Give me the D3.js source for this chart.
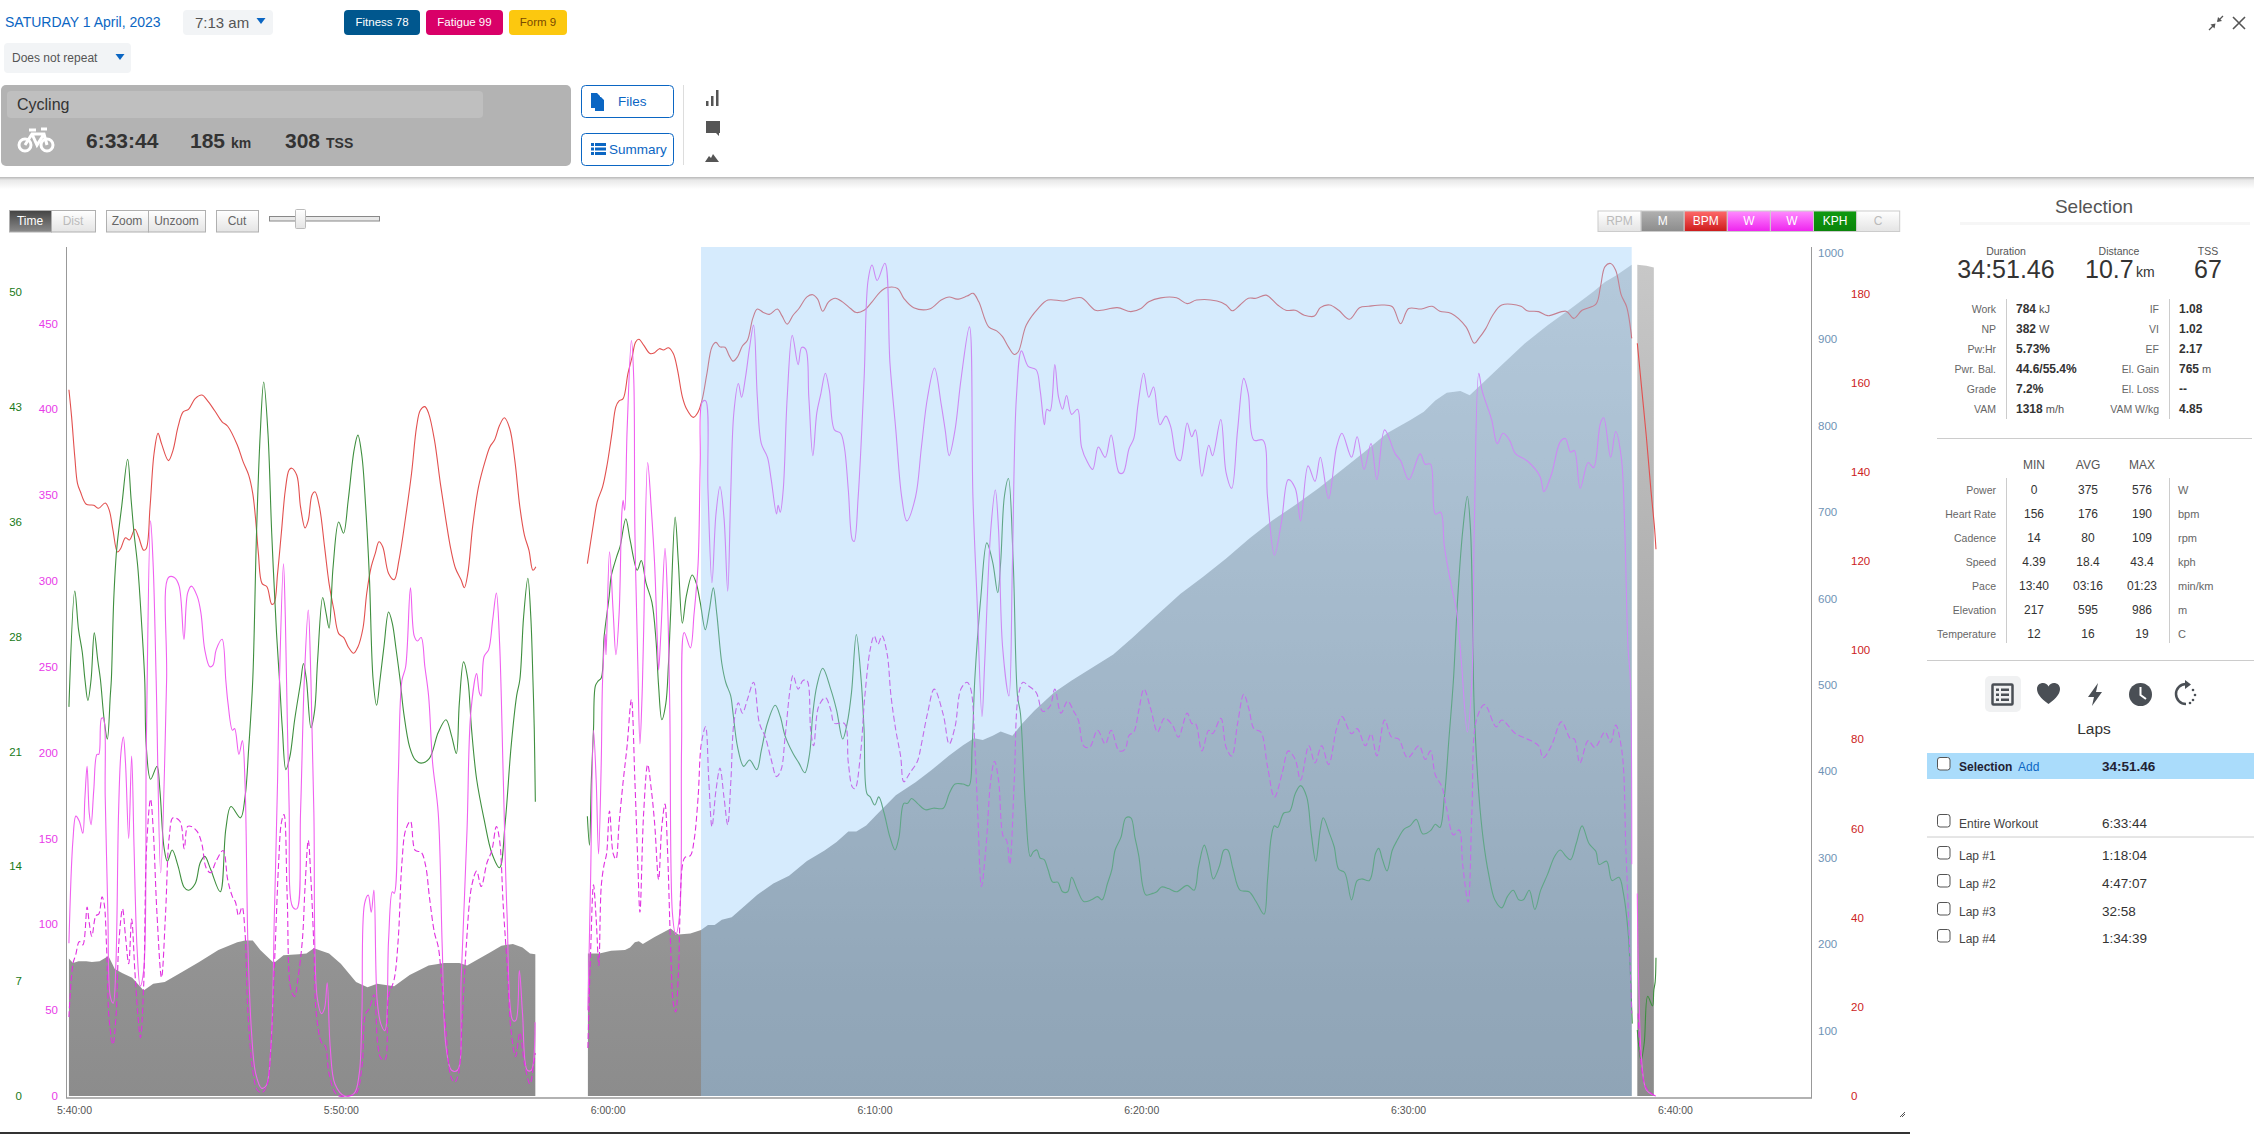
<!DOCTYPE html>
<html>
<head>
<meta charset="utf-8">
<title>Workout</title>
<script src="https://cdn.jsdelivr.net/npm/d3@7"></script>
<style>
  html, body { margin: 0; padding: 0; background: #fff; overflow: hidden; }
  text { font-family: "Liberation Sans", Arial, sans-serif; }
</style>
</head>
<body>
<div id="chart"></div>
<script>
//data - time is minutes after 5:40:00, null breaks a line where recording stopped
var hrTime = [-0.19,-0.09,0.03,0.13,0.24,0.46,0.74,0.92,1.17,1.32,
  1.46,1.63,1.75,1.93,2.08,2.28,2.42,2.61,2.71,2.85,
  3.00,3.15,3.28,3.54,3.71,3.90,4.09,4.29,4.54,4.80,
  4.98,5.26,5.55,5.76,6.12,6.34,6.55,6.70,6.81,6.91,
  7.05,7.23,7.41,7.50,7.63,7.77,7.92,8.06,8.16,8.35,
  8.49,8.66,8.78,8.92,9.03,9.20,9.39,9.56,9.74,9.92,
  10.11,10.28,10.48,10.64,10.83,10.97,11.14,11.29,11.43,11.57,
  11.79,12.00,12.18,12.43,12.65,12.84,12.98,13.15,13.29,13.51,
  13.73,13.94,14.13,14.30,14.51,14.63,14.76,14.94,15.16,15.42,
  15.59,15.76,15.95,16.13,16.33,16.52,16.71,16.88,17.05,17.20,
  17.31,18,
  19.24,19.47,19.61,19.81,19.99,20.16,20.31,20.43,20.58,20.76,
  20.92,21.05,21.17,21.35,21.59,21.76,21.94,22.09,22.28,22.46,
  22.62,22.80,22.95,23.21,23.39,23.54,23.72,23.91,24.06,24.21,
  24.40,24.55,24.70,24.87,25.05,25.24,25.44,25.61,25.84,26.06,
  26.36,26.53,26.73,26.95,27.17,27.47,27.69,27.87,28.06,28.28,
  28.53,28.80,29.10,29.32,29.61,29.91,30.21,30.47,30.87,31.10,
  31.47,32.06,32.50,32.80,33.10,33.47,33.70,33.91,34.28,34.58,
  34.80,35.02,35.24,35.39,35.69,36.13,36.50,37.10,37.47,37.76,
  38.28,38.50,39.10,39.61,39.99,40.28,40.73,41.32,41.72,42.07,
  42.84,43.18,43.41,43.70,44.01,44.30,44.68,45.11,45.42,45.77,
  46.11,46.49,46.71,47.06,47.40,47.80,48.18,48.52,49.04,49.41,
  49.72,50.02,50.50,50.90,51.19,51.62,52.17,52.48,52.65,52.91,
  53.17,53.51,54.23,54.46,54.89,55.23,55.92,56.21,56.52,57.04,
  57.21,57.38,57.59,57.78,57.99,58.19,58.38,58.5,58.59,58.76,
  58.93,59.10,59.21,59.24,59.29];
var hrValues = [158.4,152.3,143.3,137.4,135.5,132.7,132.5,131.8,133,131.4,
  126.9,122,122.8,125.2,124.7,127.1,125.4,122.4,122.8,132.1,
  144.1,148.6,146.3,142.5,144.8,150.1,153.4,154,156.4,157.2,
  156.1,153.8,151.2,150.2,146,142.2,139.2,135.1,129.1,121.7,
  114.9,114.2,110.3,110.5,117.2,126.2,135.9,140.4,140.8,139.2,
  132.1,127.4,129.1,134.8,135.5,132.1,123.2,114.9,109,103.7,
  102.8,100.7,99.3,100.7,104.9,112.7,118.7,121.7,124.3,123.2,
  117.2,115.8,120.2,129.9,139.6,150.1,153.8,154.6,153.1,147.1,
  137.4,129.1,122.4,118.3,115.7,114,117.2,127.7,136.6,142.6,
  145.6,147.1,150.4,152.1,149.7,142.6,132.1,125.8,122.4,117.9,
  118.7,null,
  119.4,128.4,133.3,136.6,141.9,148.6,154.6,155.9,156.4,162,
  165.8,169.1,169.7,168.4,166.5,166.7,167.6,167.3,167.8,166.5,
  162.8,156.8,154.2,152.2,153.4,156.1,162,168,169,168,
  167.9,166.1,164.8,165.8,168.2,169.5,174.4,176.5,175.7,175.3,
  176.5,175,173.1,175.1,176.6,179.2,179.7,178.7,176,178.1,
  178.9,178.1,176.6,175.7,176.2,178.1,180.3,181.3,181.1,178.9,
  176.8,176.5,178.5,179.2,178.7,179.4,180,178.1,172.5,171.6,
  170.3,168,166.3,166.9,172.9,176.6,178.5,178.3,178.9,179,
  176.2,176.2,176.8,175.9,176.6,178.1,179,179,177.7,178.5,
  178.3,177.4,176.1,177.4,178.9,178.9,179.6,177.4,176.2,176.2,
  175.1,174.9,176.8,177.4,176.2,174.2,176.8,177.1,177.4,177,
  173.2,176.6,176.5,177.1,176,175.5,172.5,168.8,169.9,172.1,
  175.1,177.4,177.1,176.1,175.9,175,176,174.4,176.2,177.6,
  181.5,186,186.7,185.2,179.6,177,169.9,null,168.8,158.3,
  147.8,135.9,129.1,127.1,122.6];

var powerTime = [-0.19,-0.04,0.07,0.20,0.33,0.41,0.49,0.57,0.64,0.74,
  0.86,0.93,1.03,1.10,1.17,1.27,1.36,1.47,1.57,1.67,
  1.76,1.85,1.93,2.05,2.16,2.25,2.36,2.48,2.61,2.71,
  2.87,2.97,3.08,3.25,3.47,3.54,3.76,3.94,4.12,4.26,
  4.40,4.62,4.76,4.90,5.09,5.21,5.33,5.55,5.69,5.77,
  5.94,6.02,6.18,6.31,6.41,6.52,6.65,6.81,7.03,7.20,
  7.38,7.51,7.63,7.70,7.85,7.92,8.06,8.20,8.35,8.49,
  8.63,8.78,8.88,8.99,9.11,9.28,9.39,9.49,9.60,9.78,
  10.14,10.50,10.69,10.79,10.89,11.03,11.14,11.24,11.36,11.50,
  11.65,11.79,11.93,12.00,12.15,12.29,12.43,12.61,12.75,12.87,
  13.01,13.15,13.29,13.44,13.65,13.80,13.94,14.15,14.37,14.51,
  14.73,14.87,15.09,15.19,15.26,15.37,15.54,15.69,15.83,15.95,
  16.09,16.23,16.45,16.56,16.69,16.81,16.99,17.14,17.28,18,
  19.26,19.36,19.47,19.57,19.66,19.76,19.81,19.91,19.94,20.07,
  20.21,20.31,20.43,20.53,20.58,20.64,20.73,20.89,20.98,21.02,
  21.13,21.21,21.29,21.35,21.50,21.64,21.76,21.87,21.91,22.00,
  22.15,22.24,22.33,22.43,22.55,22.70,22.77,22.87,23.10,23.24,
  23.39,23.47,23.54,23.67,23.76,23.91,24.06,24.21,24.36,24.50,
  24.61,24.73,24.90,25.02,25.17,25.32,25.47,25.61,25.76,25.99,
  26.13,26.33,26.39,26.47,26.58,26.73,26.92,27.14,27.27,27.42,
  27.54,27.69,27.84,27.99,28.16,28.31,28.50,28.73,28.87,29.02,
  29.17,29.24,29.39,29.61,29.76,29.91,30.10,30.39,30.58,30.80,
  31.02,31.21,31.54,31.76,31.99,32.25,32.50,32.65,32.80,33.02,
  33.24,33.56,33.69,33.84,34.03,34.13,34.36,34.53,34.65,34.80,
  35.04,35.17,35.32,35.51,35.76,36.06,36.21,36.37,36.46,36.58,
  36.76,36.90,37.05,37.20,37.39,37.61,37.76,37.99,38.18,38.39,
  38.65,38.87,39.17,39.32,39.54,39.72,39.88,40.09,40.28,40.46,
  40.70,40.92,41.10,41.32,41.46,41.72,41.89,42.03,42.27,42.53,
  42.67,42.98,43.18,43.39,43.61,43.84,44.01,44.22,44.56,44.73,
  44.99,45.25,45.51,45.77,45.97,46.25,46.51,46.71,47.02,47.32,
  47.52,47.88,48.09,48.35,48.61,48.83,49.12,49.52,49.72,50.03,
  50.45,50.64,50.84,51.02,51.22,51.36,51.62,51.82,52.00,52.22,
  52.39,52.48,52.65,52.77,53.13,53.34,53.56,53.80,54.03,54.46,
  54.94,55.09,55.37,55.70,55.89,56.09,56.23,56.45,56.75,56.95,
  57.21,57.33,57.59,57.78,57.99,58.12,58.24,58.33,58.38,58.5,
  58.59,58.64,58.76,58.93,59.19,59.29];
var powerValues = [89,149,163,160,153,174,192,165,158,178,
  199,199,220,220,174,106,58,54,77,165,
  200,209,194,150,198,145,87,64,73,204,
  335,308,242,130,242,302,302,297,266,293,
  297,291,281,260,250,251,260,266,242,229,
  213,214,199,207,182,87,38,13,4.5,6,
  29,106,184,242,310,279,170,110,109,165,
  242,283,242,165,58,48,51,66,29,7,
  0,1.5,13,48,112,117,107,120,56,42,
  38,91,119,118,184,242,250,296,268,265,
  267,250,233,194,165,87,29,15,15,68,
  155,223,246,235,233,256,260,277,293,264,
  184,106,44,44,73,48,15,15,43,null,
  50,125,213,184,141,194,242,269,257,317,
  281,257,281,339,347,341,388,440,417,330,
  252,205,233,271,369,341,310,262,248,271,
  319,291,225,106,94,106,203,270,261,281,
  310,369,404,405,353,299,339,355,337,294,
  349,398,415,407,419,436,449,407,380,372,
  359,339,344,340,353,407,443,426,436,435,
  407,373,398,409,421,411,388,386,378,353,
  324,323,349,417,475,484,475,485,427,388,
  349,335,349,378,407,424,403,388,373,388,
  417,448,349,291,221,252,330,353,330,262,
  233,310,407,434,425,423,411,391,400,399,
  426,407,400,408,397,400,378,369,365,378,
  372,385,363,363,377,383,403,421,407,413,
  391,396,390,372,370,392,384,388,361,379,
  373,394,363,354,388,418,409,382,382,349,
  315,334,359,354,335,367,358,372,348,378,
  386,372,384,365,380,359,388,374,370,359,
  374,368,368,339,340,320,297,282,252,212,
  242,330,421,411,394,380,386,382,374,370,
  361,352,362,381,383,375,376,354,369,366,
  392,395,372,387,372,330,262,242,135,null,
  118,68,19,3.5,0.6,0];

var balanceTime = [-0.19,-0.04,0.06,0.20,0.33,0.49,0.57,0.67,0.82,0.93,
  1.05,1.13,1.22,1.32,1.46,1.58,1.68,1.82,1.93,2.05,
  2.16,2.28,2.39,2.49,2.61,2.72,2.87,2.97,3.11,3.28,
  3.43,3.57,3.71,3.97,4.13,4.26,4.40,4.62,4.79,4.95,
  5.12,5.33,5.59,5.76,5.94,6.05,6.17,6.30,6.41,6.52,
  6.70,6.87,7.05,7.23,7.38,7.53,7.67,7.77,7.87,7.99,
  8.13,8.27,8.39,8.56,8.66,8.78,8.88,8.99,9.08,9.28,
  9.42,9.56,9.85,10.21,10.57,10.79,10.93,11.07,11.24,11.39,
  11.50,11.65,11.79,12.00,12.15,12.29,12.43,12.61,12.79,13.01,
  13.18,13.32,13.51,13.65,13.80,13.94,14.13,14.27,14.41,14.56,
  14.70,14.90,15.09,15.26,15.48,15.66,15.83,15.95,16.09,16.23,
  16.38,16.55,16.71,16.88,17.09,17.23,17.29,18,
  19.26,19.36,19.47,19.57,19.67,19.76,19.87,19.96,20.07,20.21,
  20.31,20.43,20.58,20.73,20.89,21.02,21.13,21.21,21.35,21.50,
  21.64,21.76,21.91,22.03,22.15,22.24,22.36,22.46,22.55,22.65,
  22.80,22.90,23.10,23.24,23.39,23.51,23.67,23.79,23.91,24.06,
  24.21,24.36,24.50,24.62,24.73,24.90,25.05,25.24,25.47,25.69,
  25.91,26.13,26.33,26.50,26.65,26.84,26.95,27.14,27.32,27.47,
  27.61,27.72,27.91,28.16,28.36,28.50,28.87,29.02,29.17,29.27,
  29.47,29.64,29.84,29.99,30.13,30.28,30.47,30.62,30.80,30.98,
  31.10,31.32,31.61,31.76,31.99,32.24,32.58,32.80,33.02,33.24,
  33.47,33.61,33.76,33.87,34.01,34.18,34.36,34.50,34.65,34.83,
  34.95,35.07,35.24,35.39,35.57,35.76,36.06,36.31,36.58,36.76,
  36.99,37.24,37.47,37.64,37.84,38.06,38.36,38.65,38.87,39.17,
  39.39,39.54,39.72,39.91,40.10,40.36,40.61,40.87,41.17,41.39,
  41.72,41.89,42.03,42.27,42.53,42.67,42.98,43.18,43.39,43.61,
  43.84,44.04,44.22,44.48,44.73,44.99,45.28,45.51,45.77,45.97,
  46.28,46.51,46.76,47.02,47.32,47.52,47.88,48.09,48.40,48.61,
  48.83,49.12,49.38,49.64,49.98,50.41,50.64,50.84,51.02,51.27,
  51.45,51.70,51.91,52.05,52.25,52.39,52.56,52.87,53.30,53.51,
  54.03,54.46,54.89,55.06,55.37,55.75,56.09,56.23,56.44,56.75,
  57.00,57.38,57.59,57.78,58.02,58.16,58.30,58.38,58.5,58.62,
  58.76,58.93,59.24];
var balanceValues = [46,77,82,90,88,110,101,93,105,106,
  116,112,87,44,30,48,89,109,93,77,
  103,73,48,34,64,145,173,155,106,69,
  106,151,162,160,144,157,157,154,147,133,
  130,137,143,126,116,113,105,110,95,48,
  15,3.5,2,6,29,83,136,159,164,116,
  62,58,68,91,122,149,126,87,48,31,
  29,13,0.6,0,1.6,17,48,51,59,29,
  22,21,58,68,91,136,155,160,143,142,
  134,116,95,87,64,38,11,8,13,48,
  87,122,131,122,136,143,157,149,110,77,
  38,23,37,19,7,19,25,null,
  28,83,123,103,76,122,135,141,166,141,
  138,159,183,204,231,184,136,107,165,193,
  178,159,126,157,170,145,87,54,49,71,
  134,139,140,149,174,205,215,184,157,178,
  191,174,158,184,217,229,223,231,241,217,
  209,196,186,190,209,237,245,237,242,242,
  213,204,227,232,225,217,217,194,180,179,
  198,233,260,268,263,268,258,233,213,198,
  183,188,195,205,223,237,222,205,215,237,
  241,237,204,165,122,145,184,195,184,151,
  149,135,184,233,241,239,235,224,227,237,
  223,230,224,219,204,203,213,205,213,201,
  202,210,212,225,237,225,212,220,216,209,
  223,217,217,201,213,211,220,203,198,217,
  234,225,214,212,192,174,188,201,196,184,
  204,194,204,193,214,221,211,214,204,211,
  198,219,209,208,197,204,196,201,187,180,
  167,152,155,134,113,165,219,228,215,219,
  211,208,204,197,204,218,208,208,194,207,
  203,212,206,216,200,145,87,48,null,48,
  15,4.5,0.2];

var speedTime = [-0.19,0.03,0.17,0.31,0.41,0.52,0.64,0.76,0.89,0.99,
  1.13,1.25,1.36,1.40,1.49,1.60,1.79,2.01,2.14,2.25,
  2.39,2.54,2.65,2.71,2.87,3.11,3.22,3.37,3.50,3.68,
  3.90,4.12,4.29,4.54,4.73,4.90,5.12,5.48,5.69,5.88,
  6.24,6.41,6.55,6.70,6.84,6.98,7.11,7.27,7.41,7.59,
  7.70,7.81,7.94,8.09,8.27,8.49,8.60,8.71,8.88,9.02,
  9.13,9.32,9.45,9.56,9.71,9.92,10.10,10.28,10.50,10.64,
  10.79,10.93,11.07,11.21,11.34,11.47,11.62,11.79,11.93,12.07,
  12.22,12.36,12.58,12.79,13.01,13.32,13.65,13.94,14.15,14.33,
  14.44,14.60,14.76,14.90,15.09,15.37,15.66,15.95,16.16,16.38,
  16.59,16.71,16.85,17.01,17.12,17.20,17.25,17.29,18,
  19.24,19.32,19.39,19.47,19.54,19.64,19.76,19.87,20.06,20.13,
  20.33,20.47,20.68,20.84,21.11,21.26,21.44,21.66,21.81,21.91,
  22.03,22.18,22.28,22.36,22.53,22.65,22.80,22.95,23.17,23.32,
  23.47,23.66,23.81,23.96,24.09,24.28,24.43,24.61,24.70,24.87,
  25.10,25.32,25.59,25.76,25.99,26.28,26.47,26.65,26.95,27.17,
  27.39,27.57,27.69,27.84,28.06,28.36,28.58,28.81,28.98,29.14,
  29.32,29.50,29.61,29.72,29.84,30.01,30.16,30.36,30.58,30.77,
  30.92,31.10,31.24,31.39,31.61,31.91,32.21,32.58,32.80,33.02,
  33.32,33.54,33.66,33.76,33.99,34.21,34.43,34.62,34.73,34.87,
  35.02,35.20,35.36,35.47,35.66,35.84,35.96,36.09,36.21,36.36,
  36.50,36.68,36.87,37.05,37.24,37.39,37.61,37.84,38.13,38.36,
  38.53,38.73,38.90,39.02,39.24,39.42,39.61,39.76,39.91,40.06,
  40.18,40.43,40.58,40.76,41.02,41.32,41.72,41.98,42.15,42.36,
  42.53,42.70,42.93,43.10,43.24,43.44,43.70,44.04,44.30,44.60,
  44.73,44.87,44.99,45.11,45.34,45.56,45.77,45.97,46.20,46.37,
  46.54,46.71,46.82,47.06,47.23,47.40,47.62,47.88,48.09,48.26,
  48.55,48.78,48.90,49.04,49.21,49.41,49.59,49.85,50.07,50.31,
  50.55,50.84,51.02,51.19,51.36,51.53,51.70,51.86,52.05,52.22,
  52.34,52.48,52.65,52.82,53.03,53.25,53.51,53.72,53.94,54.15,
  54.32,54.54,54.75,54.97,55.23,55.49,55.70,55.92,56.09,56.30,
  56.52,56.78,57.04,57.16,57.44,57.64,57.90,58.07,58.24,58.33,
  58.40,58.5,58.59,58.73,58.85,58.98,59.16,59.21,59.26,59.29];
var speedValues = [24.2,31.4,29.0,27.6,25.9,24.6,25.9,28.8,27.1,25.9,
  23.4,22.2,24.9,25.9,30.9,34,36.7,39.6,37.1,35,
  32.9,29.2,25.9,21.7,19.7,20.5,19,15.5,14.6,15.3,
  14.3,13,12.8,13.2,14.5,14.9,14.1,12.7,16.6,18,
  17.3,18.6,21.7,25.9,35,41.2,44.4,41.2,35,28.8,
  25.9,22.8,20.3,21.1,23.4,25.7,26.9,25.9,22.9,24,
  27.1,31,30,29.1,32.9,35.7,35,37.1,40.2,41.1,
  39.8,36.7,32.3,25.9,24.3,25.9,28,30.1,29.4,27.8,
  25.9,23.8,21.7,20.9,20.7,21,22.6,23.4,22.4,21.3,
  24.4,27,25.9,22.8,19.7,17.2,15.1,14.2,17,21.7,
  24.9,25.9,29.8,32.2,29.8,25.9,22.8,18.3,null,
  17.4,15.6,19.7,22.8,25.5,25.8,26,28.6,31.1,32.3,
  33.5,34.2,35.9,34.6,32.7,33.3,31.9,30.7,28.4,25.5,
  23.4,24.4,26.9,30,36,33.2,29.4,31.1,32.4,31.9,
  30.7,29,30.2,31.6,30,26.9,25.7,24.9,23.8,21.7,
  20.5,20.9,20.3,21.5,23.2,24.3,23.6,22.4,21.3,20.7,
  20.1,21.3,23.8,25.5,26.6,25.3,24,22.2,23.2,25.1,
  28.7,25.9,22.8,18.8,18.6,18.1,18.6,17.6,16.1,15.3,
  16.1,18.2,18.2,18.5,18.2,17.8,17.9,17.9,18.8,19.4,
  19.4,19.3,21.7,25.9,31.1,34.4,33.2,31.3,33.2,37.3,
  38.4,33.2,24.9,23.8,18,14.9,15.2,15.3,14.8,14.7,
  14.1,13.3,13.3,12.7,12.7,13.6,12.8,12.1,12.2,12.4,
  12.2,13.2,14.1,15.3,16.1,17.3,17.3,16.1,14.9,13,
  12.5,12.6,12.7,13,12.9,12.7,13.1,12.8,14.3,15.6,
  14.7,13.5,14.3,15.3,15.3,14.1,12.8,12.7,12.1,11.3,
  13.4,16.1,16.8,16.7,17.6,17.7,18.8,19.3,18.6,16.3,
  14.6,16.6,17.3,16.3,15.5,14.1,13.9,12.2,13.4,13.5,
  13.4,15.1,15.4,14.7,14,15.3,15.9,16.6,16.8,17.2,
  16.3,16.5,16.9,16.7,18.6,22.2,25.9,31,35.2,37.3,
  35.2,24,18.8,15.9,13.7,12.2,11.7,12.4,12.8,12.2,
  12.2,12.8,11.6,12.8,13.8,14.9,15.3,14.9,14.7,15.7,
  16.8,15.7,15.2,14.4,14.6,13.4,13.6,12.6,10.3,7.6,
  4.5,null,4.1,2.2,3.3,6.2,5.6,6.6,7.1,8.6];

var elevTime = [-0.19,-0.04,0.17,0.46,0.67,0.96,1.29,1.53,1.82,2.18,
  2.61,2.97,3.40,3.97,4.69,5.41,6.12,6.41,6.70,6.98,
  7.49,7.85,8.42,8.71,8.99,9.56,10.00,10.57,11.00,11.36,
  12.00,12.58,13.29,13.87,14.44,14.73,15.59,16.02,16.45,16.81,
  17.09,17.29,18,
  19.26,19.69,20.13,20.65,20.84,21.02,21.17,21.32,21.76,22.36,
  22.65,23.10,23.50,23.76,24.01,24.28,24.65,25.10,25.61,26.21,
  26.80,27.47,28.13,28.58,29.02,29.32,29.69,30.06,30.80,31.54,
  32.13,32.80,33.32,33.73,34.06,34.43,34.73,35.17,35.54,35.99,
  36.73,37.39,38.95,39.69,40.43,41.46,42.32,43.18,44.04,44.91,
  45.77,46.63,47.49,48.35,49.21,50.07,50.59,51.02,51.45,51.96,
  52.31,52.65,53.51,54.37,55.23,56.09,56.95,57.38,57.81,58.38,
  58.5,58.59,58.93,59.21];
var elevValues = [183,178,180,180,179,180,186,171,166,161,
  146,154,156,166,179,193,202,204,204,193,
  178,187,188,189,195,189,177,156,150,154,
  151,164,175,178,178,175,190,198,200,196,
  189,188,null,
  189,189,192,193,196,202,203,200,208,218,
  211,212,216,222,222,228,231,243,257,270,
  279,296,308,318,330,330,337,349,372,387,
  401,418,430,438,436,441,446,441,455,470,
  491,505,535,555,576,605,625,646,669,690,
  708,727,748,769,791,806,816,829,838,840,
  835,845,870,895,916,935,955,966,974,986,
  null,986,985,983];

var selection = [23.5, 58.38];

//axis ticks
var timeTicks = [0, 10, 20, 30, 40, 50, 60];
var timeLabels = ["5:40:00", "5:50:00", "6:00:00", "6:10:00", "6:20:00", "6:30:00", "6:40:00"];
var speedTicks = [0, 7.14, 14.29, 21.43, 28.57, 35.71, 42.86, 50];
var speedLabels = ["0", "7", "14", "21", "28", "36", "43", "50"];
var powerTicks = [0, 50, 100, 150, 200, 250, 300, 350, 400, 450];
var elevTicks = [100, 200, 300, 400, 500, 600, 700, 800, 900, 1000];
var hrTicks = [0, 20, 40, 60, 80, 100, 120, 140, 160, 180];

//panel text
var statsLeft = [["Work", "784", "kJ"], ["NP", "382", "W"], ["Pw:Hr", "5.73%", ""], ["Pwr. Bal.", "44.6/55.4%", ""], ["Grade", "7.2%", ""], ["VAM", "1318", "m/h"]];
var statsRight = [["IF", "1.08", ""], ["VI", "1.02", ""], ["EF", "2.17", ""], ["El. Gain", "765", "m"], ["El. Loss", "--", ""], ["VAM W/kg", "4.85", ""]];
var rangeRows = [["Power", "0", "375", "576", "W"], ["Heart Rate", "156", "176", "190", "bpm"], ["Cadence", "14", "80", "109", "rpm"],
  ["Speed", "4.39", "18.4", "43.4", "kph"], ["Pace", "13:40", "03:16", "01:23", "min/km"], ["Elevation", "217", "595", "986", "m"], ["Temperature", "12", "16", "19", "C"]];
var lapRows = [["Lap #1", "1:18:04"], ["Lap #2", "4:47:07"], ["Lap #3", "32:58"], ["Lap #4", "1:34:39"]];

//general setup
var width = 2254, height = 1134;
var plotLeft = 66, plotRight = 1811, plotTop = 247, plotBottom = 1096;
var blue = "#0b66c3";

var svg = d3.select("#chart").append("svg")
    .attr("width", width)
    .attr("height", height)
    .style("display", "block");

var xScale = d3.scaleLinear().domain([-0.3, 65.1]).range([plotLeft, plotRight]);
var powerScale = d3.scaleLinear().domain([0, 494.5]).range([plotBottom, plotTop]);
var hrScale = d3.scaleLinear().domain([0, 190.4]).range([plotBottom, plotTop]);
var speedScale = d3.scaleLinear().domain([0, 52.8]).range([plotBottom, plotTop]);
var elevScale = d3.scaleLinear().domain([24, 1006.6]).range([plotBottom, plotTop]);

var defs = svg.append("defs");

function gradient(id, stops) {
    var g = defs.append("linearGradient").attr("id", id).attr("x1", 0).attr("y1", 0).attr("x2", 0).attr("y2", 1);
    stops.forEach(function (s) {
        g.append("stop").attr("offset", s[0]).attr("stop-color", s[1]);
    });
}
gradient("btnLight", [[0, "#ffffff"], [1, "#e4e4e4"]]);
gradient("btnDark", [[0, "#444444"], [1, "#8a8a8a"]]);
gradient("btnGray", [[0, "#b0b0b0"], [1, "#8c8c8c"]]);
gradient("btnRed", [[0, "#ff6a6a"], [1, "#cc1a1a"]]);
gradient("btnPink", [[0, "#ff8cff"], [1, "#ee22ee"]]);
gradient("btnGreen", [[0, "#109a10"], [1, "#0a840a"]]);
gradient("headShadow", [[0, "#b8b8b8"], [0.25, "#e8e8e8"], [1, "#ffffff"]]);

var elevGrad = defs.append("linearGradient").attr("id", "elevFill")
    .attr("gradientUnits", "userSpaceOnUse")
    .attr("x1", 0).attr("y1", 264).attr("x2", 0).attr("y2", plotBottom);
[[0, "#c8c8c8"], [0.6, "#a4a4a4"], [0.85, "#929292"], [1, "#8c8c8c"]].forEach(function (s) {
    elevGrad.append("stop").attr("offset", s[0]).attr("stop-color", s[1]);
});

function label(x, y, str, size, color, opts) {
    opts = opts || {};
    return svg.append("text")
        .attr("x", x).attr("y", y)
        .attr("dy", "0.35em")
        .attr("text-anchor", opts.anchor || "start")
        .attr("font-size", size)
        .attr("font-weight", opts.weight || "normal")
        .attr("fill", color)
        .text(str);
}

function box(x, y, w, h, fill, r, stroke) {
    return svg.append("rect")
        .attr("x", x).attr("y", y).attr("width", w).attr("height", h)
        .attr("rx", r || 0)
        .attr("fill", fill)
        .attr("stroke", stroke || "none");
}

function rule(x1, y1, x2, y2, color) {
    svg.append("line")
        .attr("x1", x1).attr("y1", y1).attr("x2", x2).attr("y2", y2)
        .attr("stroke", color).attr("stroke-width", 1);
}

function icon(d, fill, stroke, sw) {
    return svg.append("path")
        .attr("d", d)
        .attr("fill", fill)
        .attr("stroke", stroke || "none")
        .attr("stroke-width", sw || 0);
}

function triangle(cx, cy) {
    icon("M" + (cx - 4.5) + "," + (cy - 3) + "h9l-4.5,6z", blue);
}
//end of setup


//header
label(5, 22, "SATURDAY 1 April, 2023", 14, blue);
box(183, 10, 90, 25, "#f2f4f6", 4);
label(195, 22.5, "7:13 am", 15, "#555");
triangle(261, 21);
box(344, 10, 76, 25, "#00578e", 4);
label(382, 22, "Fitness 78", 11.5, "#fff", { anchor: "middle" });
box(426, 10, 77, 25, "#d90068", 4);
label(464.5, 22, "Fatigue 99", 11.5, "#fff", { anchor: "middle" });
box(509, 10, 58, 25, "#fcc80f", 4);
label(538, 22, "Form 9", 11.5, "#7a4a00", { anchor: "middle" });
box(4, 43, 127, 30, "#f2f4f6", 4);
label(12, 58, "Does not repeat", 12, "#555");
triangle(120, 57);

box(1, 85, 570, 81, "#b3b3b3", 5);
box(7, 91, 476, 27, "#bfbfbf", 4);
label(17, 104, "Cycling", 16, "#333");
//bike
svg.append("circle").attr("cx", 25).attr("cy", 145).attr("r", 6).attr("fill", "none").attr("stroke", "#fff").attr("stroke-width", 3);
svg.append("circle").attr("cx", 47).attr("cy", 145).attr("r", 6).attr("fill", "none").attr("stroke", "#fff").attr("stroke-width", 3);
icon("M25,145L32,134H44L47,145M32,134L37,145L44,134M29,130H36M41,129H47", "none", "#fff", 3);
label(86, 141, "6:33:44", 21, "#333", { weight: "bold" });
label(190, 141, "185", 21, "#333", { weight: "bold" });
label(231, 143, "km", 14, "#333", { weight: "bold" });
label(285, 141, "308", 21, "#333", { weight: "bold" });
label(326, 143, "TSS", 14, "#333", { weight: "bold" });

box(581.5, 85.5, 92, 32, "#fff", 4, blue);
icon("M591,93h6l3,3v12h-9zM595,97h6l3,3v11h-9z", blue);
label(618, 101.5, "Files", 13.5, blue);
box(581.5, 133.5, 92, 32, "#fff", 4, blue);
icon("M591,143h3v3h-3zM591,147.5h3v3h-3zM591,152h3v3h-3zM595,143h11v3h-11zM595,147.5h11v3h-11zM595,152h11v3h-11z", blue);
label(609, 149.5, "Summary", 13.5, blue);
rule(683.5, 85, 683.5, 165, "#ddd");
icon("M706,101h2.5v5h-2.5zM711,96h2.5v10h-2.5zM716,90h2.5v16h-2.5z", "#555");
icon("M706,121h14v12h-1v3l-3,-3h-10z", "#555");
icon("M705,162l4,-6l2,2l2,-4l6,8z", "#555");

//close and collapse
icon("M2209,30l5,-5M2223,16l-5,5", "none", "#555", 1.3);
icon("M2215.5,23.5l-5,1l4,4zM2217,22l5,-1l-4,-4z", "#555");
icon("M2233,17l12,12M2245,17l-12,12", "none", "#555", 1.6);

//shadow under the header
box(0, 177, width, 12, "url(#headShadow)");

//toolbar
function toolButton(x, w, str, fill, color) {
    box(x + 0.5, 210.5, w, 21.5, fill, 0, "#b0b0b0");
    label(x + w / 2, 221, str, 12, color, { anchor: "middle" });
}
toolButton(9, 42, "Time", "url(#btnDark)", "#fff");
toolButton(51, 44, "Dist", "url(#btnLight)", "#bbb");
toolButton(106, 42, "Zoom", "url(#btnLight)", "#666");
toolButton(148, 57, "Unzoom", "url(#btnLight)", "#666");
toolButton(216, 42, "Cut", "url(#btnLight)", "#666");
box(269.5, 216.5, 110, 4.5, "#e8e8e8", 0, "#888");
box(295.5, 209.5, 10, 19, "url(#btnLight)", 1, "#bbb");

var toggleX = 1598, toggleW = 43.1;
var toggles = [["RPM", "url(#btnLight)", "#bbb"], ["M", "url(#btnGray)", "#fff"], ["BPM", "url(#btnRed)", "#fff"],
    ["W", "url(#btnPink)", "#fff"], ["W", "url(#btnPink)", "#fff"], ["KPH", "url(#btnGreen)", "#fff"], ["C", "url(#btnLight)", "#bbb"]];
toggles.forEach(function (t, i) {
    box(toggleX + i * toggleW, 211, toggleW, 20.5, t[1], 0, "#ccc");
    label(toggleX + (i + 0.5) * toggleW, 221, t[0], 12, t[2], { anchor: "middle" });
});


//make chart
function pairs(times, values) {
    return times.map(function (t, i) {
        return { t: t, v: values[i] };
    });
}

function lineOn(scale) {
    return d3.line()
        .defined(function (d) { return d.v !== null; })
        .curve(d3.curveCatmullRom.alpha(0.5))
        .x(function (d) { return xScale(d.t); })
        .y(function (d) { return scale(d.v); });
}

var elevArea = d3.area()
    .defined(function (d) { return d.v !== null; })
    .x(function (d) { return xScale(d.t); })
    .y0(plotBottom)
    .y1(function (d) { return elevScale(d.v); });

svg.append("path")
    .attr("d", elevArea(pairs(elevTime, elevValues)))
    .attr("fill", "url(#elevFill)");

svg.append("path")
    .attr("d", lineOn(hrScale)(pairs(hrTime, hrValues)))
    .attr("fill", "none")
    .attr("stroke", "#e2504f")
    .attr("stroke-width", 1.1);

svg.append("path")
    .attr("d", lineOn(speedScale)(pairs(speedTime, speedValues)))
    .attr("fill", "none")
    .attr("stroke", "#3f8f3f")
    .attr("stroke-width", 1.1);

svg.append("path")
    .attr("d", lineOn(powerScale)(pairs(powerTime, powerValues)))
    .attr("fill", "none")
    .attr("stroke", "#f060f0")
    .attr("stroke-width", 1.1);

svg.append("path")
    .attr("d", lineOn(powerScale)(pairs(balanceTime, balanceValues)))
    .attr("fill", "none")
    .attr("stroke", "#e030e0")
    .attr("stroke-width", 1.1)
    .attr("stroke-dasharray", "6,3");

//selected range sits over the lines
svg.append("rect")
    .attr("x", xScale(selection[0]))
    .attr("y", plotTop)
    .attr("width", xScale(selection[1]) - xScale(selection[0]))
    .attr("height", plotBottom - plotTop)
    .attr("fill", "rgb(150,204,250)")
    .attr("fill-opacity", 0.39);


//make axes
function styleAxis(g, color, size) {
    g.selectAll(".domain").remove();
    g.selectAll(".tick line").remove();
    g.selectAll(".tick text")
        .attr("fill", color)
        .attr("font-size", size)
        .attr("font-family", "\"Liberation Sans\", Arial, sans-serif");
}

//x axis
svg.append("g")
    .attr("transform", "translate(0,1110)")
    .call(d3.axisBottom(xScale)
        .tickValues(timeTicks)
        .tickSize(0)
        .tickPadding(0)
        .tickFormat(function (d, i) { return timeLabels[i]; }))
    .call(styleAxis, "#555", 10.5)
    .selectAll("text").attr("dy", "0.35em").attr("y", 0);

//speed axis
svg.append("g")
    .attr("transform", "translate(22,0)")
    .call(d3.axisLeft(speedScale)
        .tickValues(speedTicks)
        .tickSize(0)
        .tickPadding(0)
        .tickFormat(function (d, i) { return speedLabels[i]; }))
    .call(styleAxis, "#187a18", 11.5);

//power axis
svg.append("g")
    .attr("transform", "translate(58,0)")
    .call(d3.axisLeft(powerScale)
        .tickValues(powerTicks)
        .tickSize(0)
        .tickPadding(0))
    .call(styleAxis, "#e83ae8", 11.5);

//elevation axis
svg.append("g")
    .attr("transform", "translate(1818,0)")
    .call(d3.axisRight(elevScale)
        .tickValues(elevTicks)
        .tickSize(0)
        .tickPadding(0)
        .tickFormat(d3.format("d")))
    .call(styleAxis, "#6f93b5", 11.5);

//heart rate axis
svg.append("g")
    .attr("transform", "translate(1851,0)")
    .call(d3.axisRight(hrScale)
        .tickValues(hrTicks)
        .tickSize(0)
        .tickPadding(0))
    .call(styleAxis, "#cc2222", 11.5);

//axis lines
rule(plotLeft + 0.5, plotTop, plotLeft + 0.5, 1098, "#999");
rule(plotRight + 0.5, plotTop, plotRight + 0.5, 1098, "#999");
svg.append("line").attr("x1", plotLeft).attr("y1", 1098).attr("x2", plotRight + 1).attr("y2", 1098)
    .attr("stroke", "#999").attr("stroke-width", 1.3);
//end of axes


//right panel
label(2094, 206, "Selection", 19, "#555", { anchor: "middle" });
box(1960, 222, 290, 3, "#f6f6f6");

label(2006, 251, "Duration", 10.5, "#555", { anchor: "middle" });
label(2006, 269, "34:51.46", 25, "#333", { anchor: "middle" });
label(2119, 251, "Distance", 10.5, "#555", { anchor: "middle" });
label(2085, 269, "10.7", 25, "#333");
label(2136, 272, "km", 14, "#333");
label(2208, 251, "TSS", 10.5, "#555", { anchor: "middle" });
label(2208, 269, "67", 25, "#333", { anchor: "middle" });

var statRowY = d3.scaleLinear().domain([0, 1]).range([309, 329]);
function statColumn(rows, labelX, lineX, valueX) {
    rule(lineX, 299, lineX, 419, "#ccc");
    rows.forEach(function (r, i) {
        var y = statRowY(i);
        label(labelX, y, r[0], 10.5, "#666", { anchor: "end" });
        var val = label(valueX, y, r[1], 12, "#333", { weight: "bold" });
        if (r[2]) {
            val.append("tspan").attr("font-weight", "normal").attr("fill", "#555").attr("font-size", 11).text(" " + r[2]);
        }
    });
}
statColumn(statsLeft, 1996, 2006.5, 2016);
statColumn(statsRight, 2159, 2169.5, 2179);

rule(1937, 438.5, 2252, 438.5, "#ccc");

label(2034, 465, "MIN", 12, "#555", { anchor: "middle" });
label(2088, 465, "AVG", 12, "#555", { anchor: "middle" });
label(2142, 465, "MAX", 12, "#555", { anchor: "middle" });
rule(2006.5, 478, 2006.5, 643, "#ccc");
rule(2169.5, 478, 2169.5, 643, "#ccc");
var rangeRowY = d3.scaleLinear().domain([0, 1]).range([490, 514]);
rangeRows.forEach(function (r, i) {
    var y = rangeRowY(i);
    label(1996, y, r[0], 10.5, "#666", { anchor: "end" });
    label(2034, y, r[1], 12, "#333", { anchor: "middle" });
    label(2088, y, r[2], 12, "#333", { anchor: "middle" });
    label(2142, y, r[3], 12, "#333", { anchor: "middle" });
    label(2178, y, r[4], 11, "#666");
});

rule(1927, 660.5, 2254, 660.5, "#ccc");

//lap icons
var iconColor = "#4a4f55";
box(1985, 676, 36, 36, "#f0f1f2", 5);
box(1992.5, 684.5, 20, 20, "none", 1, iconColor).attr("stroke-width", 2.5);
icon("M1996,688.5h3v2.5h-3zM2001,688.5h8v2.5h-8zM1996,693.5h3v2.5h-3zM2001,693.5h8v2.5h-8zM1996,698.5h3v2.5h-3zM2001,698.5h8v2.5h-8z", iconColor);
icon("M2048.5,704C2040,698 2037,693 2037,689C2037,685 2040,683 2043,683C2045.5,683 2047.5,684.5 2048.5,686.5C2049.5,684.5 2051.5,683 2054,683C2057,683 2060,685 2060,689C2060,693 2057,698 2048.5,704Z", iconColor);
icon("M2098,683L2088,697H2094L2092,706L2102,692H2096Z", iconColor);
svg.append("circle").attr("cx", 2140.5).attr("cy", 694.5).attr("r", 11.5).attr("fill", iconColor);
icon("M2140.5,687V695L2146,699", "none", "#fff", 2);
icon("M2186,684A10,10 0 1 0 2186,704", "none", iconColor, 2.5);
icon("M2185,680L2191,684.5L2185,689Z", iconColor);
[[2193, 690], [2195, 695], [2193, 700], [2190, 703]].forEach(function (p) {
    svg.append("circle").attr("cx", p[0]).attr("cy", p[1]).attr("r", 1.3).attr("fill", iconColor);
});
label(2094, 729, "Laps", 15.5, "#333", { anchor: "middle" });

function checkbox(y) {
    box(1937.5, y + 0.5, 12.5, 12.5, "#fff", 2.5, "#555");
}
box(1927, 753, 327, 26, "#aadcfb");
checkbox(757);
label(1959, 767, "Selection", 12, "#223", { weight: "bold" });
label(2018, 767, "Add", 12, blue);
label(2102, 766, "34:51.46", 13.5, "#223", { weight: "bold" });

checkbox(814);
label(1959, 824, "Entire Workout", 12, "#444");
label(2102, 823, "6:33:44", 13.5, "#333");
rule(1927, 837, 2254, 837, "#ccc");

var lapChecks = [846, 874, 902, 929];
lapRows.forEach(function (r, i) {
    checkbox(lapChecks[i]);
    label(1959, lapChecks[i] + 10, r[0], 12, "#444");
    label(2102, lapChecks[i] + 9.5, r[1], 13.5, "#333");
});

//resize grip and the edge of the page behind
icon("M1900,1117l5,-5M1902,1117l3,-3", "none", "#555", 1);
box(0, 1132, 1910, 2, "#333");
</script>
</body>
</html>
